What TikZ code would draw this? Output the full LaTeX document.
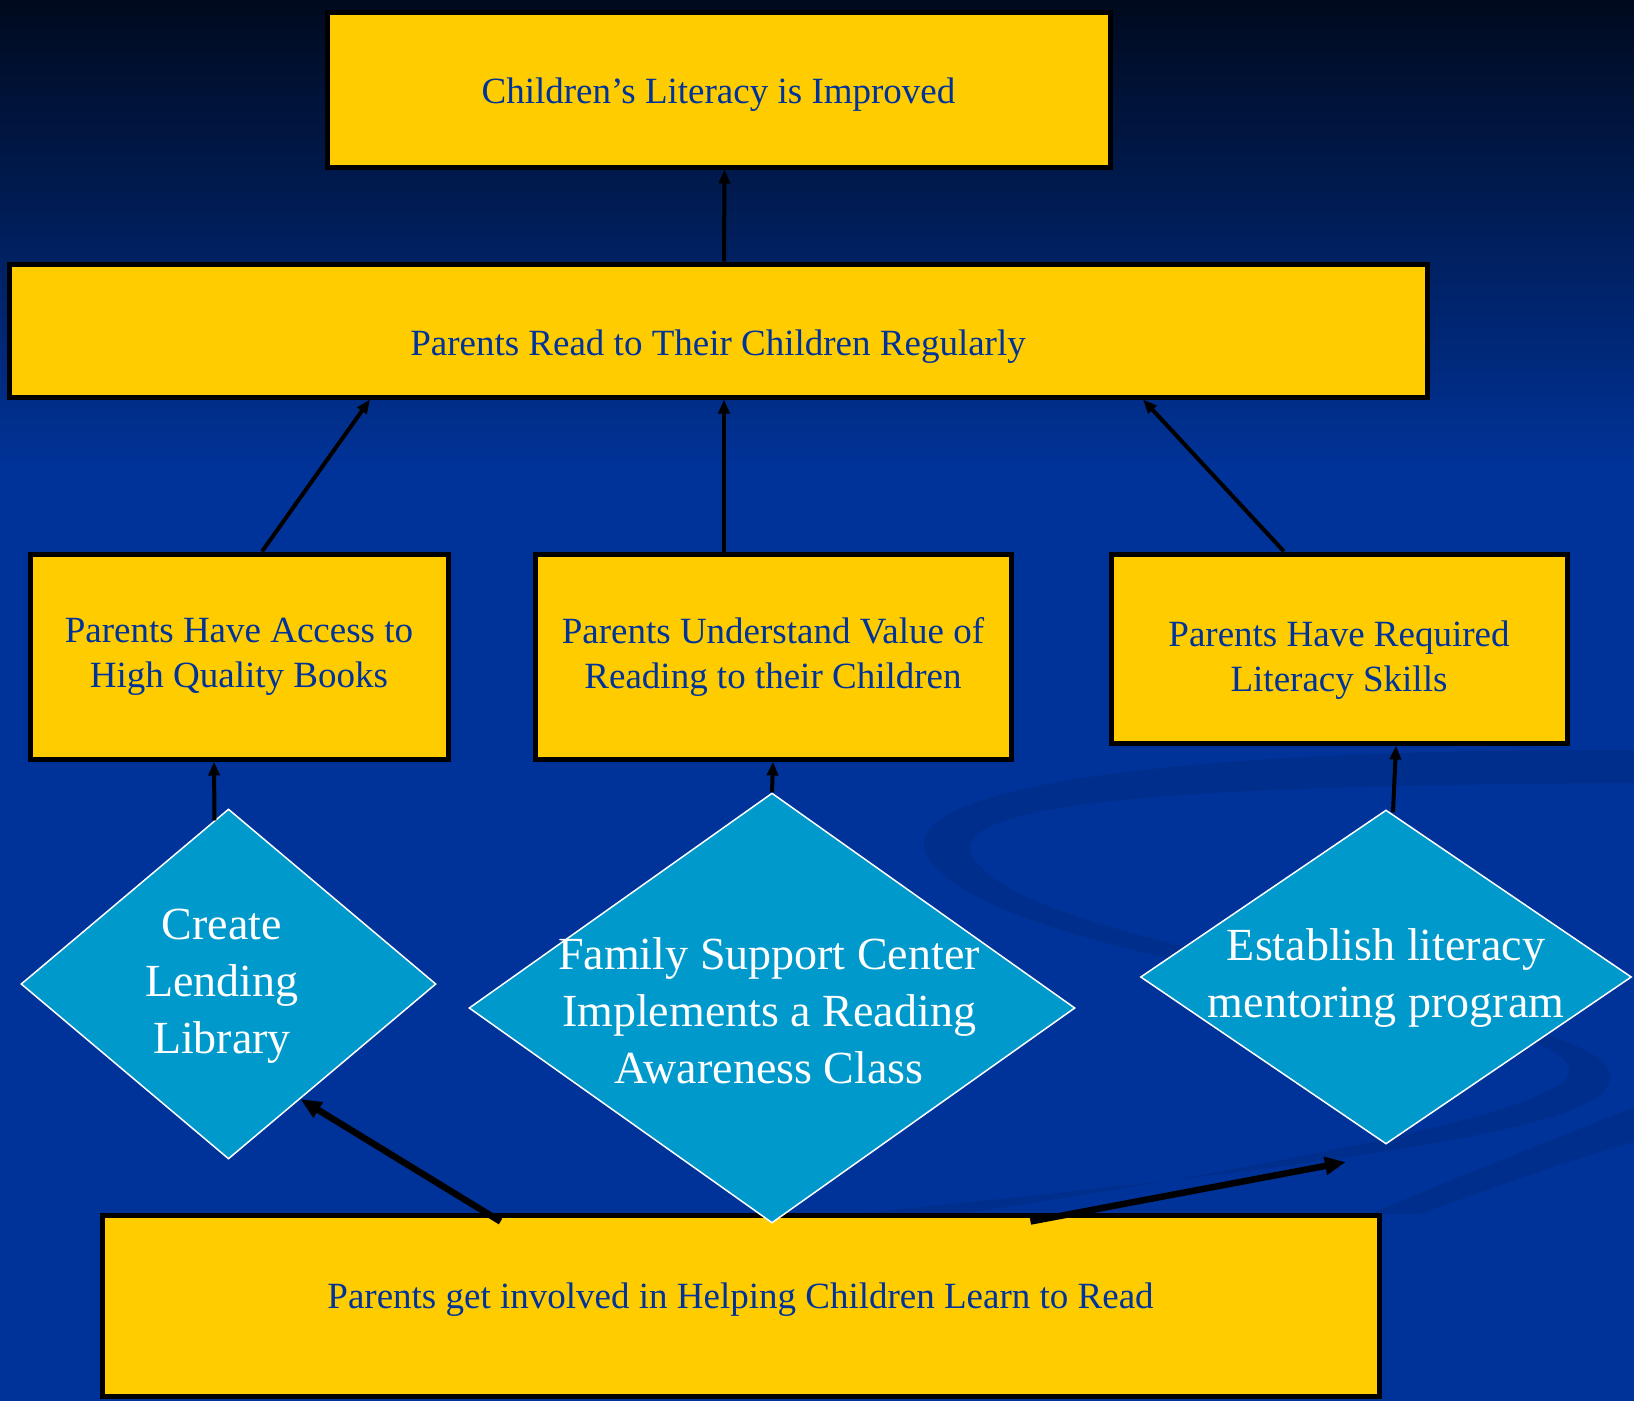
\documentclass[tikz,border=0pt]{standalone}
\usepackage{fontspec}
\setmainfont{Liberation Serif}
\usetikzlibrary{shapes.geometric,arrows.meta}
\definecolor{slideblue}{HTML}{003399}
\definecolor{slidenavy}{HTML}{000A1E}
\definecolor{swooshblue}{HTML}{002E8C}
\definecolor{outcomeyellow}{HTML}{FFCC00}
\definecolor{activityblue}{HTML}{0099CC}
% lower a line of text inside its box, keeping the box size
\newcommand{\dropby}[2]{\raisebox{-#1}[\height][\depth]{#2}}

\begin{document}
\begin{tikzpicture}[x=1pt,y=-1pt,
    outcome/.style ={rectangle, draw=black, line width=5pt, fill=outcomeyellow,
      text=slideblue, font=\fontsize{37}{45}\selectfont, align=center},
    activity/.style ={diamond, draw=white, line width=1.5pt, fill=activityblue, inner sep=0pt},
    activitytext/.style ={text=white, font=\fontsize{46}{57}\selectfont, align=center},
    link/.style ={line width=4pt, -{Triangle[length=14pt,width=11pt]}},
    biglink/.style ={line width=6.5pt, -{Triangle[length=21pt,width=17pt]}}]
   \useasboundingbox (0,0) rectangle (1634,1401);
   \clip (0,0) rectangle (1634,1401);
   % background
   \fill[slideblue] (0,0) rectangle (1634,1401);
   \shade[top color=slidenavy, bottom color=slideblue] (0,0) rectangle (1634,470);
   \fill[swooshblue] (1640,750) .. controls (1150,748) and (880,790) .. (930,860)
      .. controls (960,905) and (1080,940) .. (1200,965)
      .. controls (1450,1010) and (1660,1040) .. (1600,1095)
      .. controls (1550,1140) and (1200,1180) .. (850,1214)
      -- (960,1214) .. controls (1250,1170) and (1520,1120) .. (1565,1080)
      .. controls (1600,1045) and (1420,1000) .. (1200,950)
      .. controls (1090,925) and (980,890) .. (970,850)
      .. controls (965,800) and (1200,785) .. (1640,783) -- cycle;
   \fill[swooshblue] (1640,1105) .. controls (1550,1140) and (1450,1180) .. (1370,1214)
      -- (1420,1214) .. controls (1500,1185) and (1570,1160) .. (1640,1140) -- cycle;
   % outcomes
   \node[outcome, minimum width=783, minimum height=155] (literacy) at (718.5,89.5)
      {\dropby{5pt}{Children’s Literacy is Improved}};
   \node[outcome, minimum width=1418, minimum height=133] (readtochild) at (718,330.5)
      {\dropby{16pt}{Parents Read to Their Children Regularly}};
   \node[outcome, minimum width=418, minimum height=205] (access) at (239,656.5)
      {Parents Have Access to\\High Quality Books};
   \node[outcome, minimum width=476, minimum height=205] (value) at (773,656.5)
      {Parents Understand Value of\\Reading to their Children};
   \node[outcome, minimum width=456, minimum height=189] (skills) at (1339,648.5)
      {\dropby{11pt}{\begin{tabular}{@{}c@{}}Parents Have Required\\Literacy Skills\end{tabular}}};
   \node[outcome, minimum width=1277, minimum height=181] (involved) at (740.5,1305.5)
      {\dropby{-6pt}{Parents get involved in Helping Children Learn to Read}};
   % activities
   \node[activity, minimum width=415, minimum height=350] (library) at (228.5,984) {};
   \node[activitytext] (librarytext) at (222,986) {Create\\Lending\\Library};
   \node[activity, minimum width=606, minimum height=430] (awareness) at (772,1008) {};
   \node[activitytext] (awarenesstext) at (769,1011)
      {Family Support Center\\Implements a Reading\\Awareness Class};
   \node[activity, minimum width=491, minimum height=334] (mentoring) at (1386,977) {};
   \node[activitytext] (mentoringtext) at (1386,978)
      {Establish literacy\\mentoring program};
   % connectors
   \draw[link] ([xshift=6pt]readtochild.north) to ([xshift=6pt]literacy.south);
   \draw[link] ([xshift=23pt]access.north) to ([xshift=-348pt]readtochild.south);
   \draw[link] ([xshift=-49pt]value.north) to ([xshift=6pt]readtochild.south);
   \draw[link] ([xshift=-55pt]skills.north) to ([xshift=425pt]readtochild.south);
   \draw[link] ([xshift=-14pt,yshift=-12pt]library.north) to ([xshift=-25pt]access.south);
   \draw[link] (awareness.north) to (value.south);
   \draw[link] ([xshift=7pt,yshift=-3pt]mentoring.north) to ([xshift=57pt]skills.south);
   \draw[biglink] ([xshift=-240pt,yshift=-9pt]involved.north) to (library.-58);
   \coordinate (mentoringend) at (1346,1162);
   \draw[biglink] ([xshift=290pt,yshift=-9pt]involved.north) to (mentoringend);
 \end{tikzpicture}
\end{document}
